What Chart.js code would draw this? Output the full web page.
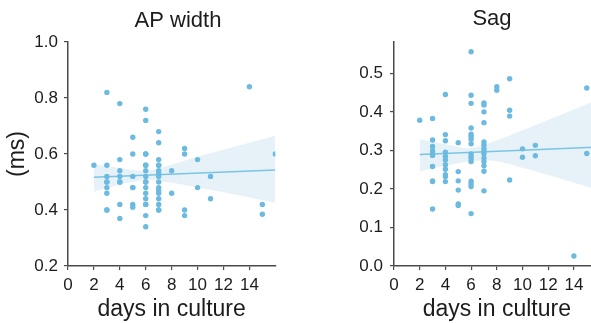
<!DOCTYPE html>
<html>
<head>
<meta charset="utf-8">
<script src="https://cdn.jsdelivr.net/npm/chart.js@4.4.1/dist/chart.umd.min.js"></script>
<style>
  html, body { margin: 0; padding: 0; background: #fff; overflow: hidden; width: 591px; height: 323px; }
  canvas { position: absolute; top: 0; }
  #apChart { left: 0; }
  #sagChart { left: 340px; }
</style>
</head>
<body>
<canvas id="apChart" width="356" height="323"></canvas>
<canvas id="sagChart" width="304" height="323"></canvas>
<script>
// AP width (ms) per cell, x = days in culture
const apDays = [2,
  3, 3, 3, 3, 3, 3, 3, 3, 3,
  4, 4, 4, 4, 4, 4, 4, 4,
  5, 5, 5, 5, 5, 5, 5,
  6, 6, 6, 6, 6, 6, 6, 6, 6, 6, 6, 6, 6, 6, 6, 6, 6,
  7, 7, 7, 7, 7, 7, 7, 7, 7, 7, 7, 7, 7, 7, 7, 7,
  8, 8, 9, 9, 9, 9, 10, 10, 11, 11, 14, 15, 15, 16];
const apValues = [0.56,
  0.82, 0.56, 0.52, 0.50, 0.50, 0.48, 0.46, 0.40, 0.40,
  0.78, 0.58, 0.54, 0.52, 0.50, 0.50, 0.42, 0.37,
  0.66, 0.60, 0.52, 0.48, 0.48, 0.42, 0.41,
  0.76, 0.72, 0.60, 0.60, 0.56, 0.56, 0.54, 0.52, 0.50, 0.50, 0.48, 0.46, 0.44, 0.42, 0.42, 0.38, 0.34,
  0.68, 0.64, 0.58, 0.56, 0.56, 0.54, 0.53, 0.52, 0.50, 0.48, 0.47, 0.46, 0.44, 0.42, 0.40, 0.40,
  0.54, 0.46, 0.62, 0.60, 0.40, 0.38, 0.58, 0.48, 0.52, 0.44, 0.84, 0.42, 0.385, 0.60];

// Sag ratio per cell
const sagDays = [2,
  3, 3, 3, 3, 3, 3, 3, 3, 3, 3,
  4, 4, 4, 4, 4, 4, 4, 4, 4, 4, 4,
  5, 5, 5, 5, 5, 5,
  6, 6, 6, 6, 6, 6, 6, 6, 6, 6, 6, 6, 6, 6, 6, 6,
  7, 7, 7, 7, 7, 7, 7, 7, 7, 7, 7, 7, 7, 7,
  8, 8, 9, 9, 9, 9, 10, 10, 11, 11, 14, 15, 15];
const sagValues = [0.378,
  0.383, 0.327, 0.31, 0.299, 0.292, 0.287, 0.258, 0.221, 0.219, 0.148,
  0.445, 0.341, 0.325, 0.295, 0.285, 0.275, 0.263, 0.251, 0.237, 0.232, 0.219,
  0.32, 0.245, 0.221, 0.197, 0.161, 0.157,
  0.556, 0.443, 0.422, 0.358, 0.342, 0.336, 0.329, 0.317, 0.291, 0.284, 0.278, 0.271, 0.22, 0.213, 0.206, 0.136,
  0.423, 0.418, 0.40, 0.372, 0.322, 0.314, 0.305, 0.298, 0.291, 0.28, 0.271, 0.26, 0.246, 0.195,
  0.465, 0.456, 0.486, 0.404, 0.389, 0.223, 0.304, 0.282, 0.313, 0.286, 0.026, 0.462, 0.292];

// regression fit and confidence band
const fitDays = [2, 16];
const apFit = [0.517, 0.543];
const sagFit = [0.289, 0.309];
const bandDays = [2, 4, 6, 8, 10, 12, 14, 16];
const apUpper = [0.563, 0.55, 0.54, 0.562, 0.59, 0.615, 0.64, 0.665];
const apLower = [0.465, 0.49, 0.507, 0.497, 0.48, 0.463, 0.445, 0.426];
const sagUpper = [0.329, 0.316, 0.306, 0.326, 0.352, 0.379, 0.406, 0.434];
const sagLower = [0.245, 0.26, 0.272, 0.272, 0.255, 0.236, 0.216, 0.196];

const dayTicks = ['0', '2', '4', '6', '8', '10', '12', '14'];

const pointColor = '#6cbadf';
const lineColor = '#7cc4e4';
const bandColor = 'rgba(108, 180, 215, 0.17)';
const axisColor = '#4a4a4a';
const textColor = '#1c1c1c';

Chart.defaults.font.family = "'Liberation Sans', Arial, sans-serif";
Chart.defaults.color = textColor;

const pairs = (xs, ys) => xs.map((x, i) => ({x: x, y: ys[i]}));

function makePanel(id, p) {
    const ctx = document.getElementById(id).getContext('2d');
    return new Chart(ctx, {
        type: 'scatter',
        data: {
            datasets: [
                {
                    data: pairs(p.days, p.values),
                    backgroundColor: pointColor,
                    borderWidth: 0,
                    pointRadius: 2.7
                },
                {
                    type: 'line',
                    data: pairs(fitDays, p.fit),
                    borderColor: lineColor,
                    borderWidth: 1.5,
                    pointRadius: 0,
                    fill: false
                },
                {
                    type: 'line',
                    data: pairs(bandDays, p.upper),
                    borderWidth: 0,
                    pointRadius: 0,
                    tension: 0.3,
                    backgroundColor: bandColor,
                    fill: '+1'
                },
                {
                    type: 'line',
                    data: pairs(bandDays, p.lower),
                    borderWidth: 0,
                    pointRadius: 0,
                    tension: 0.3,
                    fill: false
                }
            ]
        },
        options: {
            responsive: false,
            animation: false,
            layout: { padding: 0 },
            plugins: {
                legend: { display: false },
                tooltip: { enabled: false },
                title: {
                    display: true,
                    text: p.title,
                    color: textColor,
                    font: { size: 22, weight: 'normal' },
                    padding: { top: p.titleTop, bottom: p.titleBottom }
                }
            },
            scales: {
                x: {
                    type: 'linear',
                    min: 0,
                    max: 16,
                    ticks: {
                        stepSize: 2,
                        color: textColor,
                        font: { size: 17 },
                        padding: 5,
                        callback: (v) => dayTicks[v / 2]
                    },
                    afterBuildTicks: (s) => { s.ticks = s.ticks.filter(t => t.value <= 14); },
                    afterFit: (s) => { s.height = 57; },
                    grid: { drawOnChartArea: false, tickLength: 4, color: axisColor, lineWidth: 1.2 },
                    border: { color: axisColor, width: 1.5 },
                    title: {
                        display: true,
                        text: 'days in culture',
                        color: textColor,
                        font: { size: 23 },
                        padding: { top: 0, bottom: 0 }
                    }
                },
                y: {
                    min: p.yMin,
                    max: p.yMax,
                    ticks: {
                        stepSize: p.yStep,
                        color: textColor,
                        font: { size: 17 },
                        padding: p.yPad,
                        callback: (v) => v.toFixed(1)
                    },
                    afterBuildTicks: (s) => { s.ticks = s.ticks.filter(t => t.value <= p.yTop + 1e-9); },
                    afterFit: (s) => { s.width = p.yWidth; },
                    grid: { drawOnChartArea: false, tickLength: 4, color: axisColor, lineWidth: 1.2 },
                    border: { color: axisColor, width: 1.5 },
                    title: {
                        display: !!p.yTitle,
                        text: p.yTitle,
                        color: textColor,
                        font: { size: 23 },
                        padding: { top: 4, bottom: 0 }
                    }
                },
                // empty spacer on the right so the panel title sits where the original has it
                spacer: {
                    axis: 'y',
                    position: 'right',
                    ticks: { display: false },
                    grid: { display: false },
                    border: { display: false },
                    afterFit: (s) => { s.width = p.spacer; }
                }
            }
        }
    });
}

makePanel('apChart', {
    title: 'AP width',
    days: apDays, values: apValues,
    fit: apFit, upper: apUpper, lower: apLower,
    yMin: 0.2, yMax: 1.0, yTop: 1.0, yStep: 0.2,
    yTitle: '(ms)', yWidth: 68, yPad: 6,
    spacer: 80.7, titleTop: 7.5, titleBottom: 8.1
});

makePanel('sagChart', {
    title: 'Sag',
    days: sagDays, values: sagValues,
    fit: sagFit, upper: sagUpper, lower: sagLower,
    yMin: 0.0, yMax: 0.582, yTop: 0.5, yStep: 0.1,
    yTitle: '', yWidth: 54, yPad: 7,
    spacer: 44.4, titleTop: 6, titleBottom: 9.3
});
</script>
</body>
</html>
